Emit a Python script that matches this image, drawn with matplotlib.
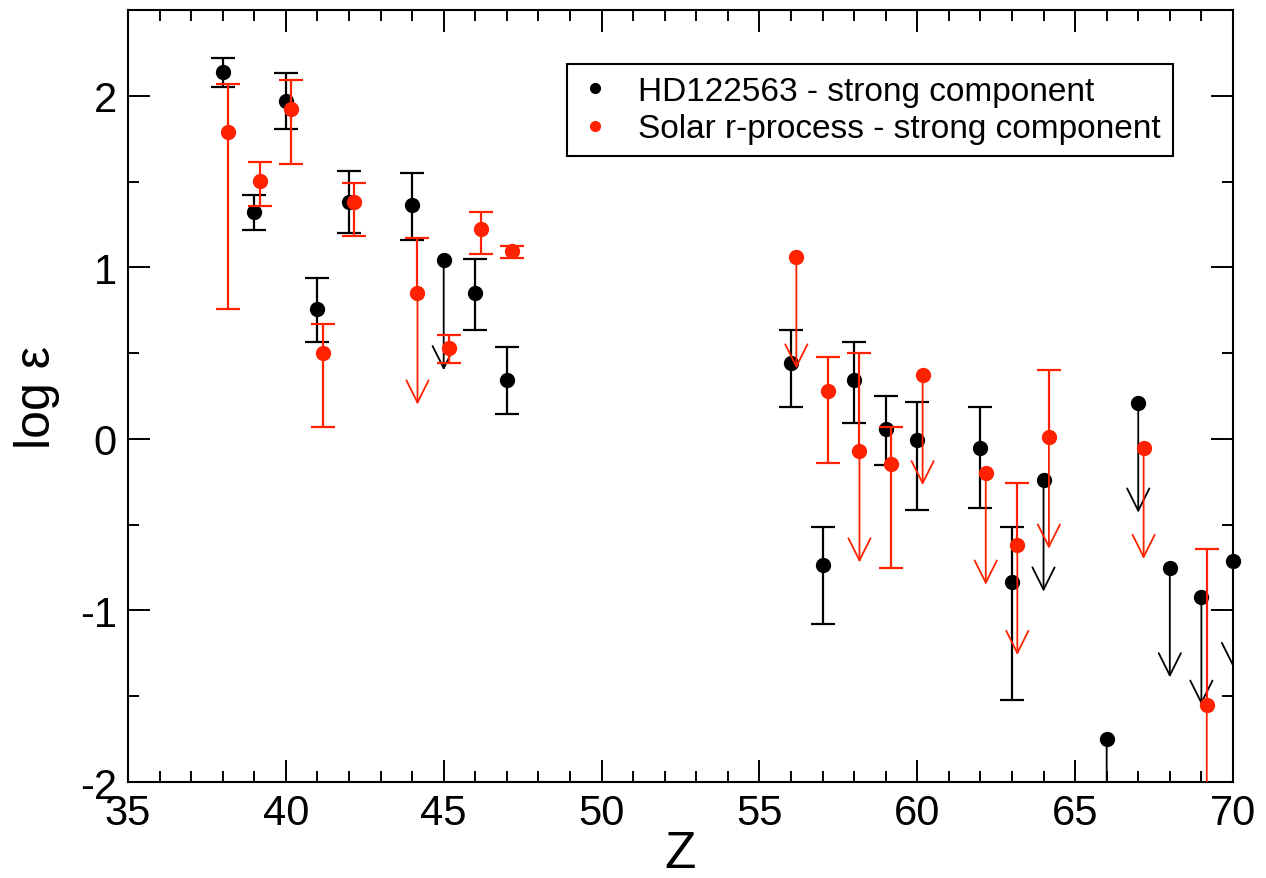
import numpy as np
import matplotlib.pyplot as plt
from matplotlib.patches import FancyArrowPatch
from matplotlib.ticker import MultipleLocator

plt.rcParams['font.family'] = ['Liberation Sans', 'DejaVu Sans']
plt.rcParams['axes.unicode_minus'] = False

nan = np.nan

# HD122563 - strong component (black)
hd_z = [38, 39, 40, 41, 42, 44, 45, 46, 47, 56, 57, 58, 59, 60, 62, 63, 64, 66, 67, 68, 69, 70]
hd_y = [2.14, 1.32, 1.97, 0.76, 1.38, 1.365, 1.045, 0.85, 0.343, 0.445, -0.733, 0.343, 0.06,
        -0.007, -0.055, -0.836, -0.24, -1.749, 0.211, -0.752, -0.922, -0.713]
hd_ehi = [0.08, 0.10, 0.165, 0.175, 0.18, 0.185, 0, 0.20, 0.19, 0.19, 0.22, 0.22, 0.19,
          0.22, 0.24, 0.32, 0, 0, 0, 0, 0, 0]
hd_elo = [0.09, 0.10, 0.165, 0.195, 0.18, 0.205, 0, 0.215, 0.20, 0.26, 0.345, 0.25, 0.21,
          0.41, 0.35, 0.685, 0, 0, 0, 0, 0, 0]
hd_lim = [nan, nan, nan, nan, nan, nan, 0.40, nan, nan, nan, nan, nan, nan,
          nan, nan, nan, -0.89, -2.4, -0.43, -1.39, -1.55, -1.33]

# Solar r-process - strong component (red)
sol_z = [38, 39, 40, 41, 42, 44, 45, 46, 47, 56, 57, 58, 59, 60, 62, 63, 64, 67, 69]
sol_y = [1.79, 1.505, 1.92, 0.50, 1.38, 0.85, 0.53, 1.225, 1.097, 1.06, 0.28, -0.07,
         -0.145, 0.373, -0.20, -0.62, 0.01, -0.055, -1.554]
sol_ehi = [0.28, 0.11, 0.17, 0.17, 0.11, 0.32, 0.075, 0.10, 0.03, 0, 0.20, 0.57,
           0.215, 0, 0, 0.365, 0.39, 0, 0.91]
sol_elo = [1.03, 0.15, 0.32, 0.43, 0.20, 0, 0.09, 0.15, 0.04, 0, 0.42, 0,
           0.61, 0, 0, 0, 0, 0, 0]
sol_lim = [nan, nan, nan, nan, nan, 0.20, nan, nan, nan, 0.41, nan, -0.72,
           nan, -0.27, -0.85, -1.26, -0.64, -0.70, -2.6]

black, red = 'black', '#ff2200'
lab1 = 'HD122563 - strong component'
lab2 = 'Solar r-process - strong component'


def draw_set(ax, z, y, elo, ehi, lim, color, dx, label, z0):
    x = np.array(z, float) + dx
    y = np.array(y, float)
    elo = np.array(elo, float)
    ehi = np.array(ehi, float)
    lim = np.array(lim, float)
    has = (elo > 0) | (ehi > 0)
    ax.vlines(x[has], (y - elo)[has], (y + ehi)[has], color=color, lw=1.6, zorder=z0)
    top = ehi > 0
    bot = elo > 0
    ax.plot(x[top], (y + ehi)[top], ls='none', marker='_', ms=17, mew=1.6, color=color, zorder=z0)
    ax.plot(x[bot], (y - elo)[bot], ls='none', marker='_', ms=17, mew=1.6, color=color, zorder=z0)
    # upper limits -> open arrows
    for xi, yi, li in zip(x, y, lim):
        if np.isnan(li):
            continue
        arr = FancyArrowPatch((xi, yi), (xi, li), arrowstyle='->,head_length=0.8,head_width=0.4',
                              mutation_scale=20, shrinkA=0, shrinkB=0, lw=1.3,
                              color=color, zorder=z0)
        ax.add_patch(arr)
    ax.plot(x, y, ls='none', marker='o', ms=10, color=color, label=label,
            zorder=z0 + 1, clip_on=False)


fig = plt.figure(figsize=(12.66, 8.79), dpi=100)
ax = fig.add_axes([0.1011, 0.1092, 0.9739 - 0.1011, 0.9875 - 0.1092])

draw_set(ax, hd_z, hd_y, hd_elo, hd_ehi, hd_lim, black, 0.0, lab1, 2)
draw_set(ax, sol_z, sol_y, sol_elo, sol_ehi, sol_lim, red, 0.17, lab2, 4)

ax.set_xlim(35, 70)
ax.set_ylim(-2, 2.5)
ax.xaxis.set_major_locator(MultipleLocator(5))
ax.xaxis.set_minor_locator(MultipleLocator(1))
ax.yaxis.set_major_locator(MultipleLocator(1))
ax.yaxis.set_minor_locator(MultipleLocator(0.5))
ax.tick_params(which='both', direction='in', top=True, right=True, width=1.4, labelsize=30, pad=8)
ax.tick_params(which='major', length=16)
ax.tick_params(which='minor', length=8)
for s in ax.spines.values():
    s.set_linewidth(1.5)

ax.set_xlabel('Z', fontsize=37, labelpad=-3)
ax.set_ylabel('log ε', fontsize=36, labelpad=14)

ax.legend(loc='upper left', bbox_to_anchor=(0.397, 0.930), fontsize=24, markerscale=0.7,
          frameon=True, fancybox=False, edgecolor='black', framealpha=1,
          borderpad=0.35, labelspacing=0.2, handlelength=1.0, handletextpad=0.8,
          borderaxespad=0)
ax.get_legend().get_frame().set_linewidth(1.5)

fig.savefig('out.png', dpi=100)
